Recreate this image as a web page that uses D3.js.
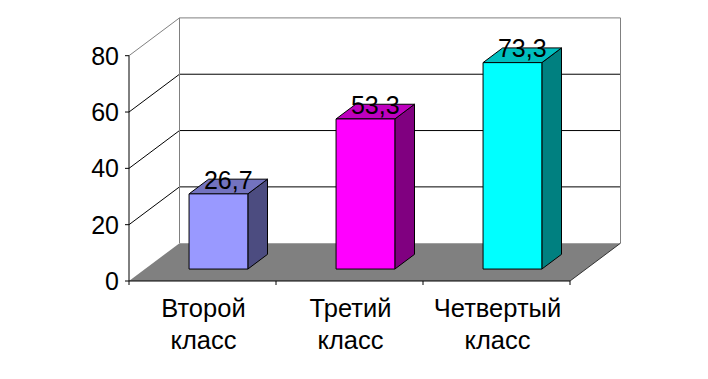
<!DOCTYPE html>
<html><head><meta charset="utf-8">
<script src="https://cdn.jsdelivr.net/npm/d3@7"></script>
<style>body{margin:0;background:#fff}svg{display:block}text{font-family:"Liberation Sans",Arial,sans-serif}</style>
</head><body>
<svg id="c" width="708" height="379"></svg>
<script>
const categories = [["Второй","класс"],["Третий","класс"],["Четвертый","класс"]];
const values = [26.7, 53.3, 73.3];
const valueLabels = ["26,7","53,3","73,3"];
const yTicks = [0,20,40,60,80];
const frontColors = ["#9999FF","#FF00FF","#00FFFF"];
const topColors = ["#7373BF","#BF00BF","#00BFBF"];
const sideColors = ["#4C4C80","#800080","#008080"];

const svg = d3.select("#c");
const DX = 50.5, DY = -37.8;
const x = d3.scaleBand().domain(d3.range(categories.length)).range([129,570]).paddingInner(0.6).paddingOuter(0.3);
const y = d3.scaleLinear().domain([0,80]).range([281,55.7]);
const P = (px,v,d) => [px + d*DX, y(v) + d*DY];
const x0 = 129, x1 = 570;

// back wall
svg.append("rect").attr("x",x0+DX).attr("y",y(80)+DY).attr("width",x1-x0).attr("height",y(0)-y(80)).attr("fill","#fff");
// gridlines
[20,40,60].forEach(v=>{
  const a=P(x0,v,0), b=P(x0,v,1), c=P(x1,v,1);
  svg.append("polyline").attr("points",[a,b,c].map(p=>p.join(",")).join(" ")).attr("fill","none").attr("stroke","#000").attr("stroke-width",1);
});
// wall border
{
  const a=P(x0,80,0), b=P(x0,80,1), c=P(x1,80,1), d=P(x1,0,1), e=P(x0,0,1);
  svg.append("polyline").attr("points",[a,b,c,d].map(p=>p.join(",")).join(" ")).attr("fill","none").attr("stroke","#808080");
  svg.append("line").attr("x1",b[0]).attr("y1",b[1]).attr("x2",e[0]).attr("y2",e[1]).attr("stroke","#808080");
}
// floor
{
  const pts=[P(x0,0,0),P(x1,0,0),P(x1,0,1),P(x0,0,1)];
  svg.append("polygon").attr("points",pts.map(p=>p.join(",")).join(" ")).attr("fill","#808080");
  const a=P(x1,0,0), b=P(x1,0,1);
  svg.append("line").attr("x1",a[0]).attr("y1",a[1]).attr("x2",b[0]).attr("y2",b[1]).attr("stroke","#333");
}
// bars
const d0 = 0.316, d1 = 0.705;
values.forEach((v,i)=>{
  const l = x(i), r = x(i)+x.bandwidth();
  const g = svg.append("g");
  const poly=(pts,fill)=>g.append("polygon").attr("points",pts.map(p=>p.join(",")).join(" ")).attr("fill",fill).attr("stroke","#000").attr("stroke-width",1).attr("stroke-linejoin","round");
  poly([P(r,0,d0),P(r,0,d1),P(r,v,d1),P(r,v,d0)], sideColors[i]);
  poly([P(l,v,d0),P(r,v,d0),P(r,v,d1),P(l,v,d1)], topColors[i]);
  poly([P(l,0,d0),P(r,0,d0),P(r,v,d0),P(l,v,d0)], frontColors[i]);
  const c = P((l+r)/2, v, (d0+d1)/2);
  svg.append("text").attr("x",c[0]).attr("y",c[1]+2).attr("text-anchor","middle").attr("font-size",25).attr("fill","#000").text(valueLabels[i]);
});
// value axis
svg.append("line").attr("x1",x0).attr("x2",x0).attr("y1",y(0)).attr("y2",y(80)).attr("stroke","#000");
yTicks.forEach(t=>{
  svg.append("line").attr("x1",x0-4).attr("x2",x0).attr("y1",y(t)).attr("y2",y(t)).attr("stroke","#000");
  svg.append("text").attr("x",x0-10).attr("y",y(t)).attr("dy","0.36em").attr("text-anchor","end").attr("font-size",25).text(t);
});
// category axis
svg.append("line").attr("x1",x0).attr("x2",x1).attr("y1",y(0)).attr("y2",y(0)).attr("stroke","#000");
const step = x.step();
d3.range(categories.length+1).forEach(k=>{
  const px = x0 + k*step;
  svg.append("line").attr("x1",px).attr("x2",px).attr("y1",y(0)).attr("y2",y(0)+4).attr("stroke","#000");
});
categories.forEach((lines,i)=>{
  const cx = x0 + (i+0.5)*step + 1;
  const t = svg.append("text").attr("text-anchor","middle").attr("font-size",25.5);
  lines.forEach((s,j)=>t.append("tspan").attr("x",cx).attr("y",317+j*31.6).text(s));
});
</script>
</body></html>
